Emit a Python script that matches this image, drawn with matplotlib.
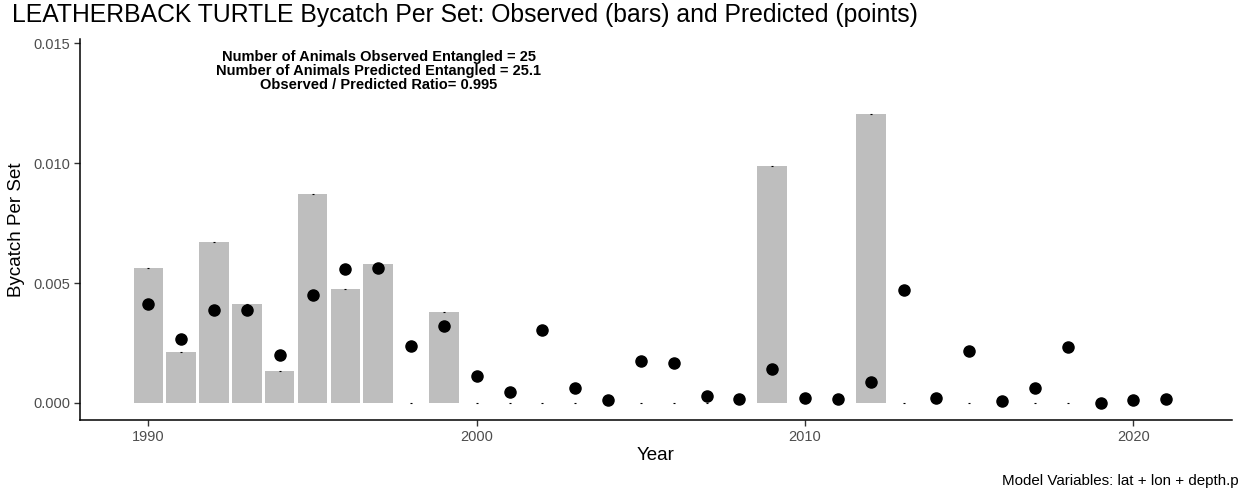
import matplotlib
matplotlib.use("Agg")
import matplotlib.pyplot as plt
import numpy as np

plt.rcParams['font.family'] = ['Liberation Sans', 'DejaVu Sans']

years = list(range(1990, 2022))
observed = [0.005625, 0.00214, 0.00671, 0.004125, 0.00133, 0.00872, 0.00475, 0.00578,
            0.0, 0.0038, 0.0, 0.0, 0.0, 0.0, 0.0, 0.0, 0.0, 0.0, 0.0, 0.00989,
            0.0, 0.0, 0.01204, 0.0, 0.0, 0.0, 0.0, 0.0, 0.0, 0.0, 0.0, 0.0]
predicted = [0.004125, 0.00267, 0.003875, 0.003875, 0.00199, 0.00449, 0.00557, 0.00564,
             0.00239, 0.00322, 0.00114, 0.00046, 0.00304, 0.000625, 0.00011, 0.00176,
             0.00168, 0.00028, 0.00017, 0.00142, 0.0002, 0.00015, 0.000875, 0.0047,
             0.00021, 0.00218, 0.00007, 0.000625, 0.00233, 0.0, 0.00014, 0.00015]
y_ticks = [0.0, 0.005, 0.010, 0.015]
y_ticklabels = ["0.000", "0.005", "0.010", "0.015"]
x_ticks = [1990, 2000, 2010, 2020]

title = "LEATHERBACK TURTLE Bycatch Per Set: Observed (bars) and Predicted (points)"
annot = ("Number of Animals Observed Entangled = 25\n"
         "Number of Animals Predicted Entangled = 25.1\n"
         "Observed / Predicted Ratio= 0.995")
caption = "Model Variables: lat + lon + depth.p"

W, H = 1242, 490
fig = plt.figure(figsize=(W / 100, H / 100), dpi=100)
ax = fig.add_axes([80 / W, 70 / H, (1232 - 80) / W, (420 - 39) / H])

ax.bar(years, observed, width=0.9, color="#bebebe", zorder=1)
ax.plot(years, observed, linestyle="none", marker="_", markersize=1.5, color="black",
        markeredgewidth=0.8, zorder=2)
ax.plot(years, predicted, linestyle="none", marker="o", markersize=8, color="black", zorder=3)

ax.set_xlim(1987.92, 2023.0)
ax.set_ylim(-0.00071, 0.01517)
ax.set_xticks(x_ticks)
ax.set_xticklabels([str(x) for x in x_ticks])
ax.set_yticks(y_ticks)
ax.set_yticklabels(y_ticklabels)

for s in ["top", "right"]:
    ax.spines[s].set_visible(False)
for s in ["left", "bottom"]:
    ax.spines[s].set_linewidth(1.1)
    ax.spines[s].set_color("black")
ax.tick_params(axis="both", length=4, width=1, color="#333333", labelsize=10.5,
               labelcolor="#4d4d4d", pad=3)

ax.set_xlabel("Year", fontsize=13.5, labelpad=2)
ax.set_ylabel("Bycatch Per Set", fontsize=13.5, labelpad=6)

t_title = fig.text(12 / W, 1 - 15 / H, title, fontsize=15, ha="left", va="center")
t_annot = fig.text(379 / W, 1 - 71 / H, annot, fontsize=10, fontweight="bold",
                   ha="center", va="center", linespacing=1.0, multialignment="center")
t_cap = fig.text(1239 / W, 1 - 481 / H, caption, fontsize=9.5, ha="right", va="center")

# scale text sizes so their widths match the reference widths (pixels)
fig.canvas.draw()
renderer = fig.canvas.get_renderer()
for t, target in [(t_title, 909), (t_annot, 325), (t_cap, 237)]:
    w = t.get_window_extent(renderer).width
    t.set_fontsize(t.get_fontsize() * target / w)

# line spacing of the annotation: ~14 px between baselines
fs = t_annot.get_fontsize()
t_annot.set_linespacing(14.0 / (fs * 100 / 72))

fig.savefig("out.png", dpi=100)
